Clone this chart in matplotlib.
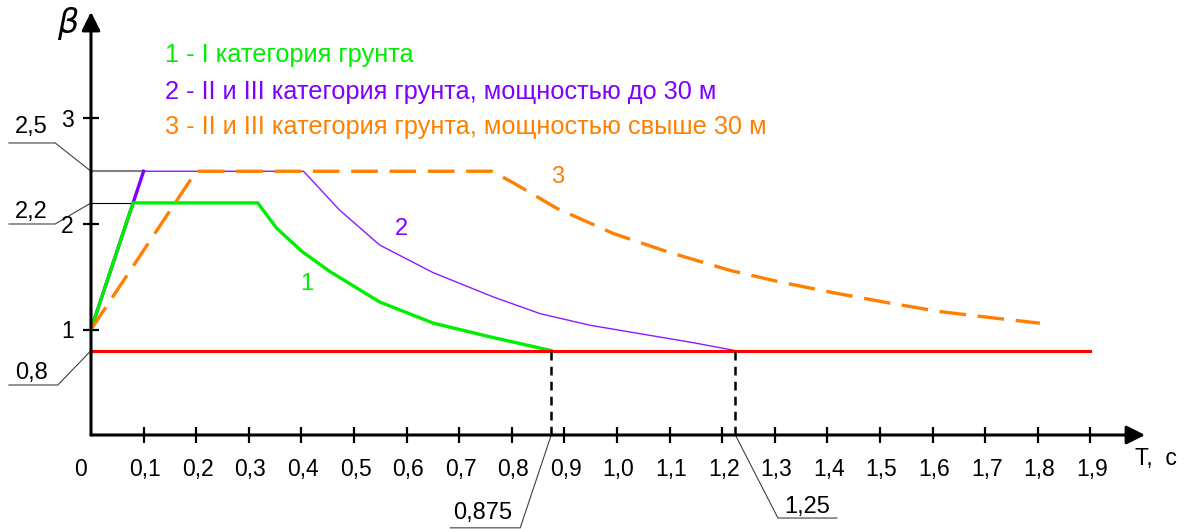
import matplotlib.pyplot as plt

plt.rcParams['font.family'] = ['Liberation Sans', 'DejaVu Sans']

# curve 1 - I категория грунта
t1 = [0.0, 0.08, 0.317, 0.353, 0.401, 0.454, 0.549, 0.651, 0.759, 0.875]
b1 = [1.0, 2.2, 2.2, 1.96, 1.74, 1.55, 1.26, 1.06, 0.93, 0.8]

# curve 2 - II и III категория, до 30 м
t2 = [0.0, 0.1, 0.404, 0.473, 0.549, 0.65, 0.764, 0.854, 0.949, 1.056, 1.145, 1.225]
b2 = [1.0, 2.5, 2.5, 2.13, 1.80, 1.54, 1.31, 1.15, 1.04, 0.95, 0.875, 0.8]

# curve 3 - II и III категория, свыше 30 м
t3 = [0.0, 0.2, 0.762, 0.803, 0.885, 0.993, 1.094, 1.215, 1.31, 1.41, 1.519, 1.614, 1.715, 1.804]
b3 = [1.0, 2.5, 2.5, 2.39, 2.15, 1.91, 1.74, 1.56, 1.45, 1.35, 1.25, 1.17, 1.11, 1.06]

beta_min = 0.8
t_max = 1.9
cross_t = [0.875, 1.225]
cross_labels = ["0,875", "1,25"]

xticks = [0.1, 0.2, 0.3, 0.4, 0.5, 0.6, 0.7, 0.8, 0.9, 1.0,
          1.1, 1.2, 1.3, 1.4, 1.5, 1.6, 1.7, 1.8, 1.9]
xtick_labels = ["0,1", "0,2", "0,3", "0,4", "0,5", "0,6", "0,7", "0,8", "0,9", "1,0",
                "1,1", "1,2", "1,3", "1,4", "1,5", "1,6", "1,7", "1,8", "1,9"]
yticks = [1, 2, 3]
ytick_labels = ["1", "2", "3"]

legend = ["1 - I категория грунта",
          "2 - II и III категория грунта, мощностью до 30 м",
          "3 - II и III категория грунта, мощностью свыше 30 м"]

green = "#00ee00"
purple = "#8000ff"
orange = "#ff8000"
red = "#ff0000"

fig = plt.figure(figsize=(11.9, 5.29), dpi=100)
ax = fig.add_axes([0, 0, 1, 1])
# pixel mapping: x = (px-91)/526, y = (435-py)/105.5
ax.set_xlim(-91 / 526, (1190 - 91) / 526)
ax.set_ylim((435 - 529) / 105.5, 435 / 105.5)
ax.axis('off')

# axes with arrows
ax.annotate('', xy=(2.004, 0), xytext=(0, 0),
            arrowprops=dict(arrowstyle='-|>', lw=2.2, color='k', mutation_scale=28,
                            shrinkA=0, shrinkB=0))
ax.annotate('', xy=(0, 4.01), xytext=(0, 0),
            arrowprops=dict(arrowstyle='-|>', lw=2.2, color='k', mutation_scale=28,
                            shrinkA=0, shrinkB=0))

# ticks
ax.plot(xticks, [0] * len(xticks), ls='none', marker='|', ms=12, mew=1.6, color='k')
ax.plot([0] * len(yticks), yticks, ls='none', marker='_', ms=12, mew=1.6, color='k')
for x, lab in zip(xticks, xtick_labels):
    ax.text(x + 0.003, -0.33, lab, fontsize=16.5, ha='center', va='center')
ax.text(-0.02, -0.33, "0", fontsize=16.5, ha='center', va='center')
for y, lab in zip(yticks, ytick_labels):
    ax.text(-0.045, y - 0.02, lab, fontsize=16.5, ha='center', va='center')

ax.text(-0.044, 3.9, r"$\beta$", fontsize=24, ha='center', va='center')
ax.text(1.985, -0.22, "Т,  с", fontsize=16.5, ha='left', va='center')

# extension lines
ax.plot([0, t2[1]], [2.5, 2.5], color='#808080', lw=1.5)
ax.plot([0, t1[1]], [2.2, 2.2], color='k', lw=0.8)

# curves
ax.plot(t2, b2, color=purple, lw=1.0, alpha=0.9)
ax.plot(t2[:2], b2[:2], color=purple, lw=2.4)
ax.plot(t1, b1, color=green, lw=2.4)
ax.plot(t3, b3, color=orange, lw=2.4, dashes=(8, 3.5))
ax.plot([0, t_max], [beta_min, beta_min], color=red, lw=2.2)

for x in cross_t:
    ax.plot([x, x], [0, beta_min], color='k', lw=1.8, dashes=(3.5, 2.5))

# curve labels
ax.text(0.41, 1.43, "1", color=green, fontsize=17, ha='center', va='center')
ax.text(0.591, 1.95, "2", color=purple, fontsize=17, ha='center', va='center')
ax.text(0.888, 2.45, "3", color=orange, fontsize=17, ha='center', va='center')

# legend text
for i, (txt, c) in enumerate(zip(legend, [green, purple, orange])):
    ax.text(0.141, [3.6, 3.25, 2.92][i], txt, color=c, fontsize=18.3, ha='left', va='center')

# leaders for y values
lead = dict(color='#404040', lw=0.8)
ax.plot([0, -0.068, -0.156], [2.5, 2.768, 2.768], **lead)
ax.text(-0.113, 2.92, "2,5", fontsize=17, ha='center', va='center')
ax.plot([0, -0.068, -0.156], [2.2, 2.0, 2.0], **lead)
ax.text(-0.114, 2.11, "2,2", fontsize=17, ha='center', va='center')
ax.plot([0, -0.063, -0.156], [beta_min, 0.474, 0.474], **lead)
ax.text(-0.113, 0.59, "0,8", fontsize=17, ha='center', va='center')

# leaders for T values
ax.plot([cross_t[0], 0.816, 0.683], [0, -0.88, -0.88], **lead)
ax.text(0.745, -0.74, cross_labels[0], fontsize=17, ha='center', va='center')
ax.plot([cross_t[1], 1.306, 1.418], [0, -0.787, -0.787], **lead)
ax.text(1.361, -0.68, cross_labels[1], fontsize=17, ha='center', va='center')

fig.savefig("out.png", dpi=100)
